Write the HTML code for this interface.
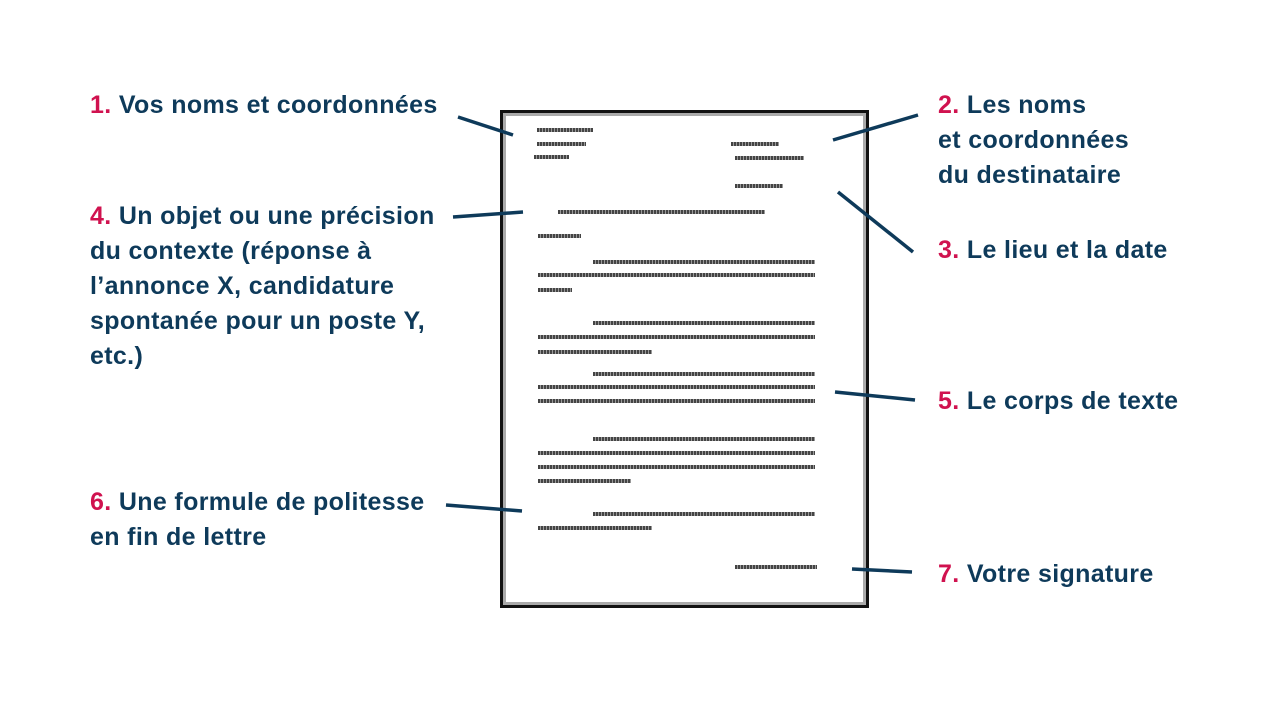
<!DOCTYPE html>
<html><head><meta charset="utf-8"><style>
body{margin:0;width:1280px;height:720px;background:#fff;position:relative;overflow:hidden;font-family:"Liberation Sans",sans-serif}
.l{position:absolute;font-weight:bold;font-size:25px;color:#0e3a5a;line-height:35px;white-space:nowrap;letter-spacing:0.35px}
.l b{color:#d0124f}
.page{position:absolute;left:500px;top:110px;width:363px;height:492px;border:3px solid #111;box-shadow:inset 0 0 0 3px #aaa}
.t{position:absolute;height:4px;background:repeating-linear-gradient(90deg,#444 0 2px,#999 2px 3px)}
svg{position:absolute;left:0;top:0}
</style></head><body>
<div class="page"></div>
<svg width="1280" height="720"><g stroke="#0e3a5a" stroke-width="3.5" fill="none">
<line x1="458" y1="117" x2="513" y2="135"/>
<line x1="918" y1="115" x2="833" y2="140"/>
<line x1="838" y1="192" x2="913" y2="252"/>
<line x1="453" y1="217" x2="523" y2="212"/>
<line x1="835" y1="392" x2="915" y2="400"/>
<line x1="446" y1="505" x2="522" y2="511"/>
<line x1="852" y1="569" x2="912" y2="572"/>
</g></svg>
<div class="t" style="left:537px;top:128px;width:56px"></div>
<div class="t" style="left:537px;top:142px;width:49px"></div>
<div class="t" style="left:534px;top:155px;width:35px"></div>
<div class="t" style="left:731px;top:142px;width:48px"></div>
<div class="t" style="left:735px;top:156px;width:69px"></div>
<div class="t" style="left:735px;top:184px;width:48px"></div>
<div class="t" style="left:558px;top:210px;width:207px"></div>
<div class="t" style="left:538px;top:234px;width:43px"></div>
<div class="t" style="left:593px;top:260px;width:222px"></div>
<div class="t" style="left:538px;top:273px;width:277px"></div>
<div class="t" style="left:538px;top:288px;width:34px"></div>
<div class="t" style="left:593px;top:321px;width:222px"></div>
<div class="t" style="left:538px;top:335px;width:277px"></div>
<div class="t" style="left:538px;top:350px;width:114px"></div>
<div class="t" style="left:593px;top:372px;width:222px"></div>
<div class="t" style="left:538px;top:385px;width:277px"></div>
<div class="t" style="left:538px;top:399px;width:277px"></div>
<div class="t" style="left:593px;top:437px;width:222px"></div>
<div class="t" style="left:538px;top:451px;width:277px"></div>
<div class="t" style="left:538px;top:465px;width:277px"></div>
<div class="t" style="left:538px;top:479px;width:93px"></div>
<div class="t" style="left:593px;top:512px;width:222px"></div>
<div class="t" style="left:538px;top:526px;width:114px"></div>
<div class="t" style="left:735px;top:565px;width:82px"></div>
<div class="l" style="left:90px;top:88px"><b>1.</b> Vos noms et coordonnées</div>
<div class="l" style="left:938px;top:88px"><b>2.</b> Les noms<br>et coordonnées<br>du destinataire</div>
<div class="l" style="left:938px;top:233px"><b>3.</b> Le lieu et la date</div>
<div class="l" style="left:90px;top:199px"><b>4.</b> Un objet ou une précision<br>du contexte (réponse à<br>l’annonce X, candidature<br>spontanée pour un poste Y,<br>etc.)</div>
<div class="l" style="left:938px;top:384px"><b>5.</b> Le corps de texte</div>
<div class="l" style="left:90px;top:485px"><b>6.</b> Une formule de politesse<br>en fin de lettre</div>
<div class="l" style="left:938px;top:557px"><b>7.</b> Votre signature</div>
</body></html>
